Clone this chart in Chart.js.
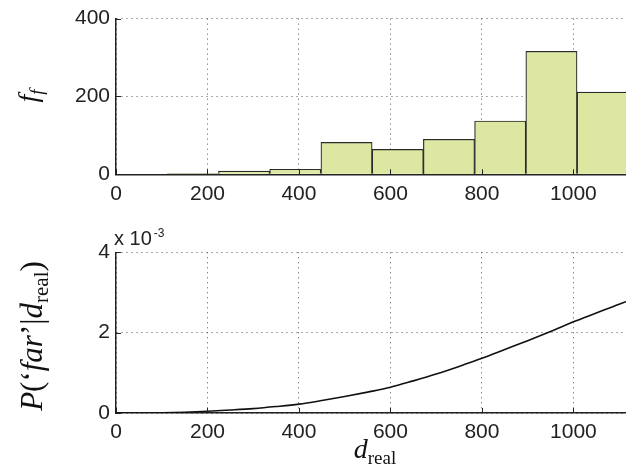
<!DOCTYPE html>
<html>
<head>
<meta charset="utf-8">
<script src="https://cdn.jsdelivr.net/npm/chart.js@4.4.1/dist/chart.umd.min.js"></script>
<style>
  body { margin: 0; background: #fff; }
  #wrap { position: relative; width: 626px; height: 473px; overflow: hidden; }
  canvas { position: absolute; left: 0; }
  .lbl { position: absolute; font-family: "Liberation Serif", "DejaVu Serif", serif; color: #111; white-space: nowrap; }
  .rot { transform: translate(-50%, -50%) rotate(-90deg); }
  .it { font-style: italic; }
  sub { font-style: normal; font-size: 0.68em; vertical-align: -0.3em; }
</style>
</head>
<body>
<div id="wrap">
  <canvas id="histChart" width="626" height="230" style="top:0"></canvas>
  <canvas id="probChart" width="626" height="243" style="top:230px"></canvas>

  <div class="lbl rot it" style="left:30px; top:96px; font-size:28px;">f<sub style="font-style:italic">f</sub></div>
  <div class="lbl rot" style="left:34px; top:336px; font-size:31px;"><span class="it">P</span>(‘<span class="it">far</span>’|<span class="it">d</span><sub>real</sub>)</div>
  <div class="lbl" style="left:375px; top:451px; font-size:28px; transform: translate(-50%, -50%);"><span class="it">d</span><sub>real</sub></div>
  <div class="lbl" style="left:114px; top:226px; font-family:'Liberation Sans', Arial, sans-serif; font-size:20px; color:#222;">x 10<span style="font-size:12px; vertical-align:8px; margin-left:2px">-3</span></div>
</div>

<script>
// histogram bins (centres) and counts
const binCentres = [56, 168, 280, 392, 504, 616, 728, 840, 952, 1064];
const counts = [0, 2, 8, 13, 82, 64, 90, 137, 316, 211];

// probability curve
const distance = [0, 50, 100, 150, 200, 250, 300, 350, 400, 450, 500, 550, 600, 650, 700, 750, 800, 850, 900, 950, 1000, 1050, 1100, 1115];
const probFar = [0, 0, 0.000005, 0.00002, 0.000045, 0.000075, 0.00011, 0.00016, 0.00022, 0.00031, 0.00041, 0.00052, 0.00064, 0.0008, 0.00097, 0.00116, 0.00136, 0.00158, 0.0018, 0.00203, 0.00227, 0.00249, 0.00271, 0.00277];

const xTicks = [0, 200, 400, 600, 800, 1000];

const tickFont = { family: "'Liberation Sans', Arial, sans-serif", size: 21 };

// MATLAB-like inward tick marks
const innerTicks = {
  id: "innerTicks",
  afterDatasetsDraw(chart) {
    const { ctx, chartArea, scales } = chart;
    ctx.save();
    ctx.strokeStyle = "#222";
    ctx.lineWidth = 1;
    ctx.beginPath();
    scales.x.ticks.forEach((t) => {
      const px = Math.round(scales.x.getPixelForValue(t.value)) + 0.5;
      ctx.moveTo(px, chartArea.bottom);
      ctx.lineTo(px, chartArea.bottom - 5);
    });
    scales.y.ticks.forEach((t) => {
      const py = Math.round(scales.y.getPixelForValue(t.value)) + 0.5;
      ctx.moveTo(chartArea.left, py);
      ctx.lineTo(chartArea.left + 5, py);
    });
    ctx.stroke();
    ctx.restore();
  },
};

function xScale(height) {
  return {
    type: "linear",
    min: 0,
    max: 1115,
    offset: false,
    afterBuildTicks: (s) => { s.ticks = xTicks.map((v) => ({ value: v })); },
    afterFit: (s) => { s.height = height; },
    ticks: { font: tickFont, color: "#222", padding: 7, maxRotation: 0, callback: (v) => String(v) },
    grid: { color: "#555", lineWidth: 1, drawTicks: false, offset: false },
    border: { display: true, color: "#222", width: 1.5, dash: [1, 4] },
  };
}

function yScale(max, step, fmt) {
  return {
    min: 0,
    max: max,
    afterFit: (s) => { s.width = 116; },
    ticks: { stepSize: step, font: tickFont, color: "#222", padding: 6, callback: fmt },
    grid: { color: "#555", lineWidth: 1, drawTicks: false },
    border: { display: true, color: "#222", width: 1.5, dash: [1, 4] },
  };
}

const common = {
  responsive: false,
  animation: false,
  devicePixelRatio: 1,
  plugins: { legend: { display: false }, tooltip: { enabled: false } },
};

new Chart(document.getElementById("histChart"), {
  type: "bar",
  data: {
    datasets: [
      {
        data: binCentres.map((x, i) => ({ x: x, y: counts[i] })),
        backgroundColor: "#dde7a1",
        borderColor: "#2a2a2a",
        borderWidth: 1.2,
        barPercentage: 1,
        categoryPercentage: 1,
      },
    ],
  },
  options: {
    ...common,
    layout: { padding: { top: 14, right: 0, left: 0, bottom: 0 } },
    scales: {
      x: xScale(55.7),
      y: yScale(400, 200, (v) => String(v)),
    },
  },
  plugins: [innerTicks],
});

new Chart(document.getElementById("probChart"), {
  type: "line",
  data: {
    datasets: [
      {
        data: distance.map((x, i) => ({ x: x, y: probFar[i] })),
        borderColor: "#111",
        borderWidth: 1.6,
        pointRadius: 0,
        fill: false,
        cubicInterpolationMode: "monotone",
      },
    ],
  },
  options: {
    ...common,
    layout: { padding: { top: 22.3, right: 0, left: 0, bottom: 0 } },
    scales: {
      x: xScale(60),
      y: yScale(0.004, 0.002, (v) => String(Math.round(v * 1000))),
    },
  },
  plugins: [innerTicks],
});
</script>
</body>
</html>
